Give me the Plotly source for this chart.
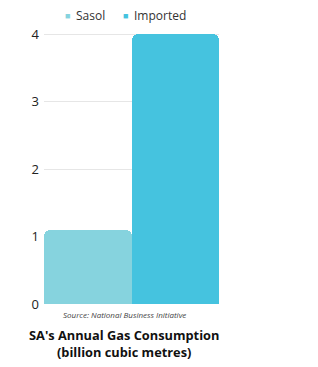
import plotly.graph_objects as go

categories = ["Sasol", "Imported"]
values = [1.1, 4.0]
colors = ["#86d3de", "#45c3df"]

fig = go.Figure()
for c, v, col in zip(categories, values, colors):
    fig.add_trace(go.Bar(x=[c], y=[v], name=c, showlegend=False,
                         marker=dict(color=col, cornerradius=6, line=dict(width=0))))

fig.update_layout(
    width=318, height=367,
    margin=dict(l=44, r=99, t=33, b=63),
    barmode="overlay", bargap=0,
    plot_bgcolor="white", paper_bgcolor="white",
    font=dict(family="Open Sans", color="#222222", size=13),
    xaxis=dict(showticklabels=False, showgrid=False, zeroline=False, showline=False),
    yaxis=dict(range=[0, 4.02], tickvals=[0, 1, 2, 3, 4], gridcolor="#e6e6e6", zeroline=False,
               showline=False, tickfont=dict(size=13, color="#222222"), ticklabelstandoff=4),
)

# legend drawn as text entries
legend_x = [67, 125]
for c, col, lx in zip(categories, colors, legend_x):
    fig.add_annotation(text=f"<span style='color:{col}'>■</span>", xref="paper", yref="paper",
                       x=(lx - 44) / 175, y=1, yshift=18, xanchor="center", yanchor="middle",
                       showarrow=False, font=dict(size=9))
    fig.add_annotation(text=c, xref="paper", yref="paper",
                       x=(lx + 7 - 44) / 175, y=1, yshift=18, xanchor="left", yanchor="middle",
                       showarrow=False, font=dict(size=12, color="#333333"))

fig.add_annotation(text="<i>Source: National Business Initiative</i>", xref="paper", yref="paper",
                   x=(124 - 44) / 175, y=0, yshift=-10, xanchor="center", yanchor="middle",
                   showarrow=False, font=dict(size=8, color="#444444"))
fig.add_annotation(text="<b>SA's Annual Gas Consumption<br>(billion cubic metres)</b>", xref="paper", yref="paper",
                   x=(124 - 44) / 175, y=0, yshift=-20, xanchor="center", yanchor="top", showarrow=False,
                   font=dict(size=12.8, color="#111111"))
fig.write_html("out.html")
